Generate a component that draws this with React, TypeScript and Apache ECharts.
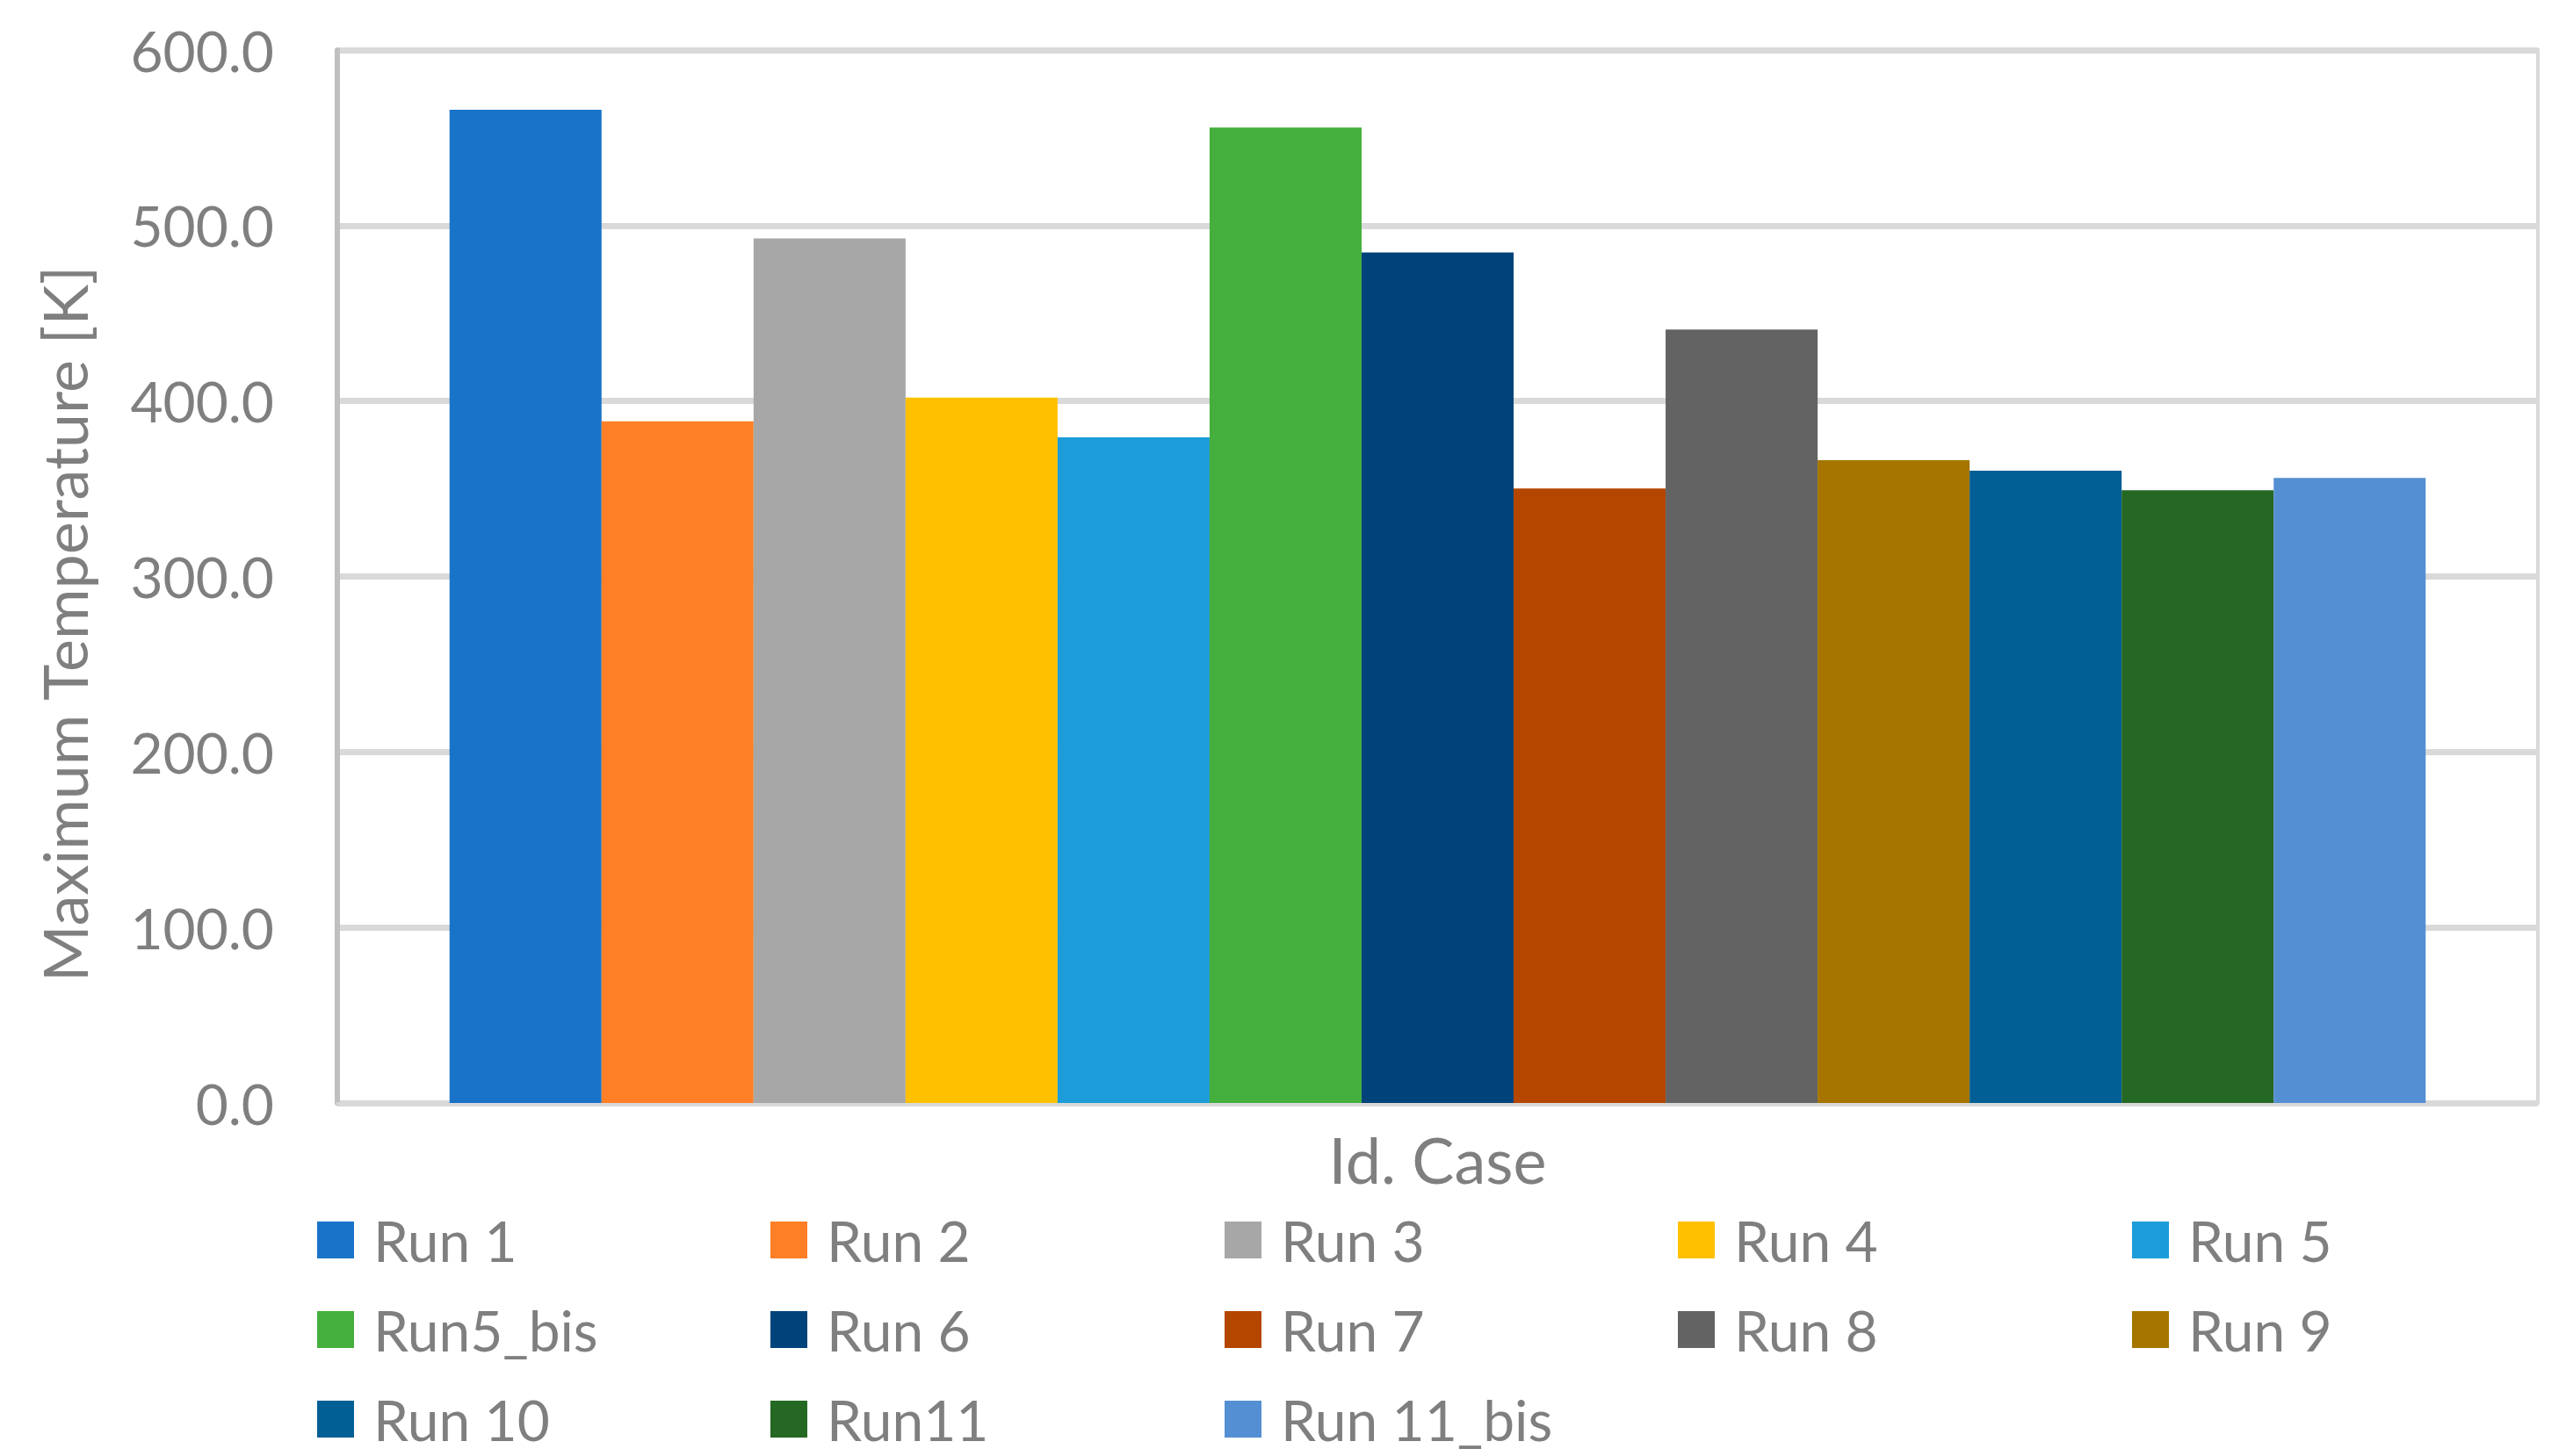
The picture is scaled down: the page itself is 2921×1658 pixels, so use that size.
import React, { useEffect, useRef } from "react";
import * as echarts from "echarts";

const categories = ["Id. Case"];
const runNames = [
  "Run 1", "Run 2", "Run 3", "Run 4", "Run 5",
  "Run5_bis", "Run 6", "Run 7", "Run 8", "Run 9",
  "Run 10", "Run11", "Run 11_bis",
];
const runValues = [566.0, 388.4, 492.7, 401.9, 379.3, 555.8, 484.7, 350.2, 440.7, 366.3, 360.3, 349.2, 356.2];
const runColors = [
  "#1973C8", "#FF7F27", "#A7A7A7", "#FFC000", "#1C9CD9",
  "#45AF3D", "#00427A", "#B44600", "#636363", "#A57500",
  "#015F95", "#256823", "#558FD3",
];
const yTicks = { min: 0, max: 600, interval: 100 };
const legendColumns = [
  ["Run 1", "Run5_bis", "Run 10"],
  ["Run 2", "Run 6", "Run11"],
  ["Run 3", "Run 7", "Run 11_bis"],
  ["Run 4", "Run 8"],
  ["Run 5", "Run 9"],
];
const legendColumnX = [361, 877, 1394, 1910, 2427];

const FONT = "Lato";
const GREY = "#7f7f7f";

export default function App() {
  const ref = useRef<HTMLDivElement>(null);
  useEffect(() => {
    if (!ref.current) return;
    const chart = echarts.init(ref.current, undefined, { renderer: "svg" });
    chart.setOption({
      animation: false,
      backgroundColor: "#ffffff",
      grid: {
        left: 384,
        right: 32,
        top: 57,
        bottom: 402,
        show: true,
        borderColor: "#d9d9d9",
        borderWidth: 4,
        containLabel: false,
      },
      legend: legendColumns.map((col, i) => ({
        data: col,
        orient: "vertical",
        left: legendColumnX[i],
        top: 1380,
        height: 278,
        padding: 0,
        itemWidth: 42,
        itemHeight: 42,
        itemGap: 38,
        icon: "rect",
        selectedMode: false,
        textStyle: {
          fontFamily: FONT,
          fontSize: 64,
          color: GREY,
          padding: [0, 0, 0, 17],
        },
      })),
      xAxis: {
        type: "category",
        data: categories,
        name: "Id. Case",
        nameLocation: "middle",
        nameGap: 28,
        nameTextStyle: { fontFamily: FONT, fontSize: 72, color: GREY },
        axisLabel: { show: false },
        axisTick: { show: false },
        axisLine: { show: true, lineStyle: { color: "#d9d9d9", width: 3 } },
        splitLine: { show: false },
      },
      yAxis: {
        type: "value",
        min: yTicks.min,
        max: yTicks.max,
        interval: yTicks.interval,
        name: "Maximum Temperature [K]",
        nameLocation: "middle",
        nameGap: 276,
        nameTextStyle: {
          fontFamily: FONT,
          fontSize: 70,
          color: GREY,
          padding: [0, 108, 0, 0],
        },
        axisLabel: {
          fontFamily: FONT,
          fontSize: 64,
          color: GREY,
          margin: 72,
          formatter: (v: number) => v.toFixed(1),
        },
        axisTick: { show: false },
        axisLine: { show: true, lineStyle: { color: "#bfbfbf", width: 6 } },
        splitLine: { show: true, lineStyle: { color: "#d9d9d9", width: 7 } },
      },
      series: runNames.map((name, i) => ({
        name,
        type: "bar",
        data: [runValues[i]],
        barGap: "0%",
        barCategoryGap: "10.2%",
        itemStyle: { color: runColors[i] },
      })),
    });
    return () => chart.dispose();
  }, []);
  return (
    <div
      ref={ref}
      style={{ position: "fixed", left: 0, top: 0, width: 2921, height: 1658 }}
    />
  );
}
